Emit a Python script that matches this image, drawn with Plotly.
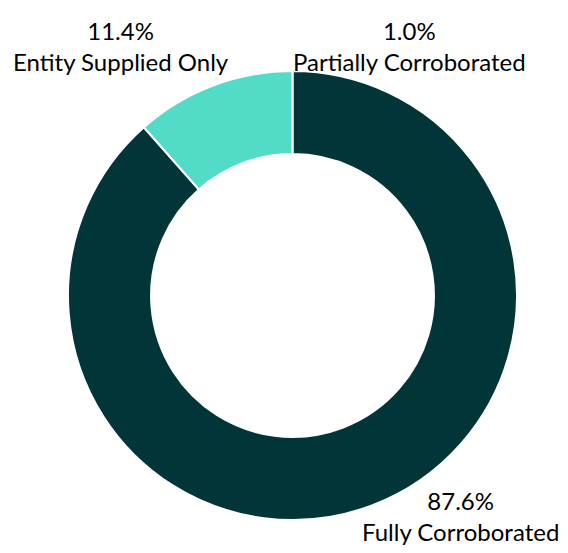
import plotly.graph_objects as go

# Data
categories = ["Fully Corroborated", "Entity Supplied Only"]
values = [87.6, 11.4]
colors = ["#023538", "#52DCC8"]

label_names = ["Entity Supplied Only", "Partially Corroborated", "Fully Corroborated"]
label_pcts = [11.4, 1.0, 87.6]

# The page body has an 8px default margin, so the figure is drawn 8px in.
OFF = 8
W, H = 568 - OFF, 553 - 2 * OFF


def px_x(v):
    return (v - OFF) / W


def px_y(v):
    return 1 - (v - OFF) / H


fig = go.Figure(
    go.Pie(
        labels=categories,
        values=values,
        hole=0.63,
        sort=False,
        direction="clockwise",
        rotation=0,
        marker=dict(colors=colors, line=dict(color="white", width=2)),
        textinfo="none",
        hoverinfo="label+percent",
        showlegend=False,
        domain=dict(x=[px_x(68), px_x(517)], y=[px_y(520), px_y(71)]),
    )
)

label_pos = [(121, 46), (409, 46), (460, 516)]
annotations = []
for name, pct, (px, py) in zip(label_names, label_pcts, label_pos):
    annotations.append(
        dict(
            text=f"{pct:.1f}%<br>{name}",
            x=px_x(px),
            y=px_y(py),
            xref="paper",
            yref="paper",
            xanchor="center",
            yanchor="middle",
            showarrow=False,
            align="center",
            font=dict(family="Lato, Carlito, sans-serif", size=24, color="#000000"),
        )
    )

fig.update_layout(
    width=W,
    height=H,
    margin=dict(l=0, r=0, t=0, b=0),
    paper_bgcolor="white",
    plot_bgcolor="white",
    annotations=annotations,
)

fig.write_html("out.html")
